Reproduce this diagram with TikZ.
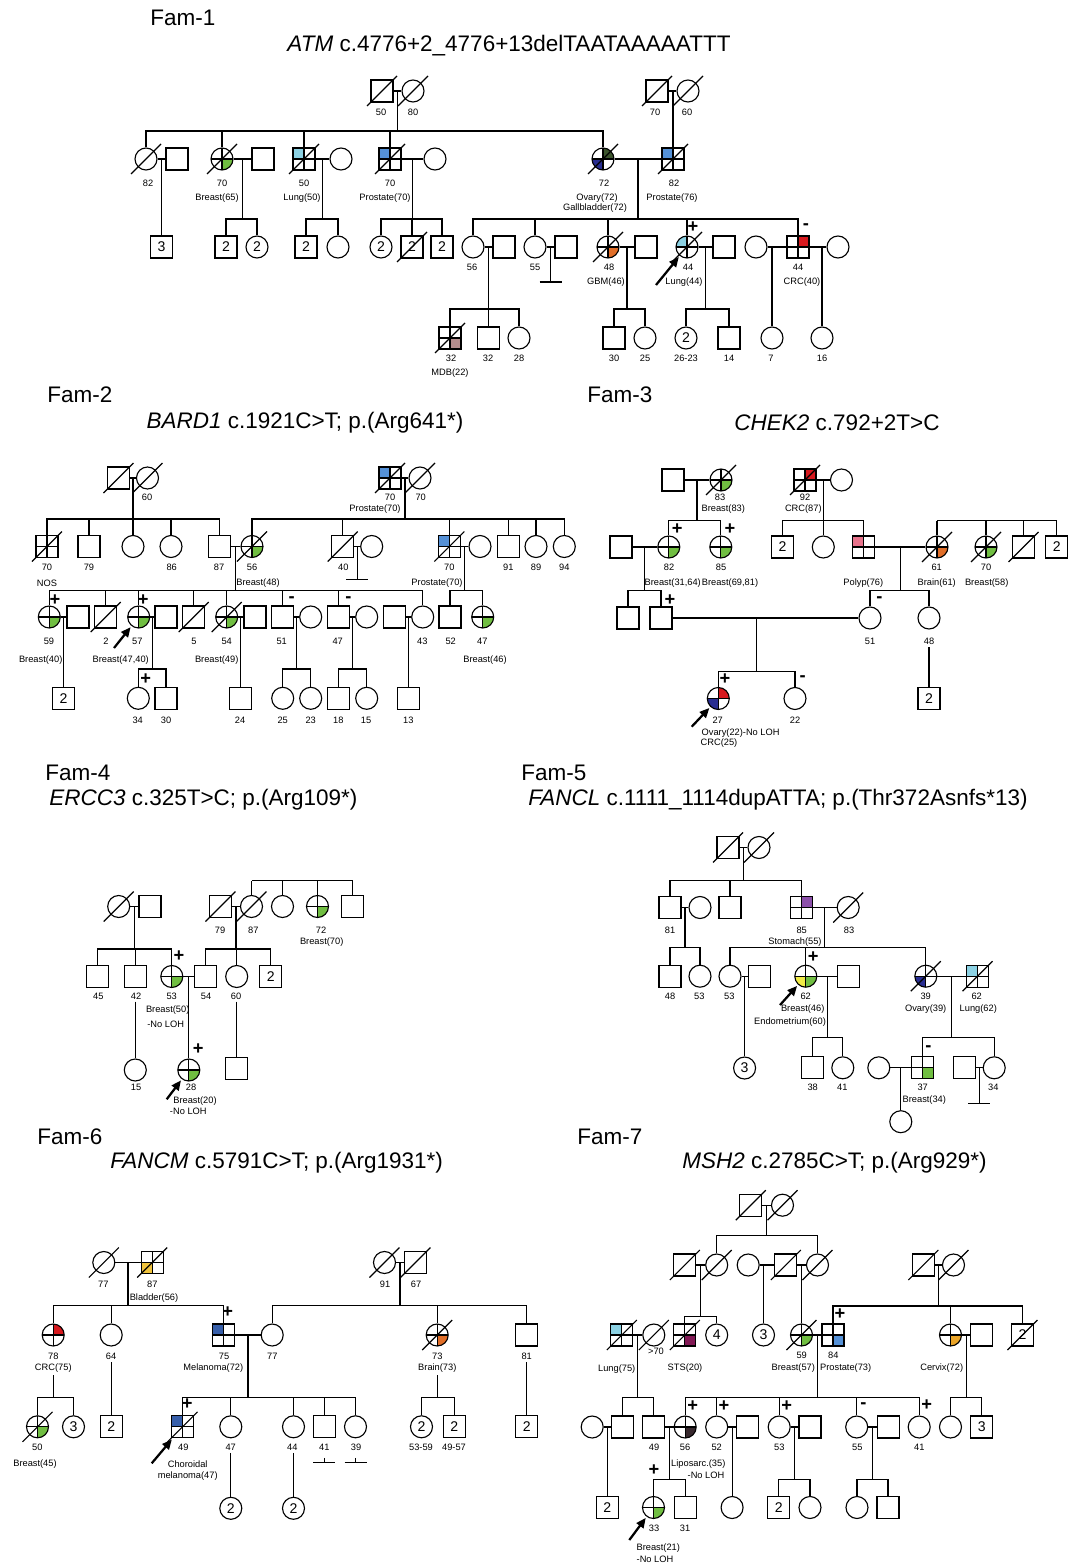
\documentclass[tikz,border=0pt]{standalone}
\usepackage{fontspec}
\setmainfont{Liberation Sans}
\usetikzlibrary{calc,arrows.meta}

\definecolor{brgreen}{RGB}{112,190,65}
\definecolor{ltblue}{RGB}{140,210,228}
\definecolor{prblue}{RGB}{85,145,215}
\definecolor{dkgreen}{RGB}{60,85,45}
\definecolor{dkblue}{RGB}{40,45,145}
\definecolor{orng}{RGB}{225,110,40}
\definecolor{crcred}{RGB}{215,25,30}
\definecolor{mdbrose}{RGB}{180,140,140}
\definecolor{polyp}{RGB}{232,115,140}
\definecolor{stomach}{RGB}{140,80,170}
\definecolor{endoyel}{RGB}{240,235,70}
\definecolor{bladder}{RGB}{240,195,60}
\definecolor{melblue}{RGB}{55,95,170}
\definecolor{stsred}{RGB}{130,25,85}
\definecolor{lipo}{RGB}{55,40,45}
\definecolor{cervix}{RGB}{235,165,40}

\tikzset{
  ln/.style={line width=0.8pt},
  sym/.style={draw, line width=0.8pt, minimum size=5.5mm, inner sep=0pt, font=\fontsize{10}{10}\selectfont},
  male/.style={sym, rectangle},
  fem/.style={sym, circle},
  qd/.style n args={4}{path picture={
    \fill[#1] (path picture bounding box.center) rectangle (path picture bounding box.north west);
    \fill[#2] (path picture bounding box.center) rectangle (path picture bounding box.north east);
    \fill[#3] (path picture bounding box.center) rectangle (path picture bounding box.south west);
    \fill[#4] (path picture bounding box.center) rectangle (path picture bounding box.south east);
    \draw[line width=0.8pt] (path picture bounding box.north) -- (path picture bounding box.south)
      (path picture bounding box.west) -- (path picture bounding box.east);}},
  qnw/.style={qd={#1}{white}{white}{white}},
  qne/.style={qd={white}{#1}{white}{white}},
  qsw/.style={qd={white}{white}{#1}{white}},
  qse/.style={qd={white}{white}{white}{#1}},
  crs/.style={qd={white}{white}{white}{white}},
  lbl/.style={font=\fontsize{6.6}{7}\selectfont, inner sep=1.5pt},
  mk/.style={font=\fontsize{13}{13}\selectfont\bfseries, inner sep=0pt},
  fam/.style={font=\fontsize{16}{19}\selectfont, anchor=west, inner sep=0pt},
  gene/.style={font=\fontsize{16}{19}\selectfont, inner sep=0pt},
  pro/.style={-{Triangle[length=7pt,width=6pt]}, line width=1.6pt, shorten >=1pt},
}
\newcommand{\deadline}[1]{\draw[ln] ([shift={(-15,15)}]#1.center) -- ([shift={(15,-15)}]#1.center);}
\newcommand{\couple}[3]{\draw[ln] (#1) -- (#2); \coordinate (#3) at ($(#1)!.5!(#2)$);}
\newcommand{\sibs}[3]{\draw[ln] (#1) -- (#1 |- 0,#2);
  \foreach \kid in {#3} {\draw[ln] (\kid.north) |- (#1 |- 0,#2);}}

\begin{document}
\begin{tikzpicture}[x=0.25mm, y=-0.25mm]
\fill[white] (0,0) rectangle (1079,1564);
\useasboundingbox (0,0) rectangle (1079,1564);

% ---------------- Fam-1
\node[fam] (h1) at (150,18) {Fam-1};
\node[gene] (g1) at (509,46) {\textit{ATM} c.4776+2\_4776+13delTAATAAAAATTT};
\node[male] (A1) at (382,91) {};
\node[fem] (A2) at (413,91) {};
\node[male] (A3) at (657,91) {};
\node[fem] (A4) at (688,91) {};
\node[fem] (A5) at (146,159) {};
\node[male] (A6) at (177,159) {};
\node[fem, qse=brgreen] (A7) at (222,159) {};
\node[male] (A8) at (263,159) {};
\node[male, qnw=ltblue] (A9) at (304,159) {};
\node[fem] (A10) at (341,159) {};
\node[male, qnw=prblue] (A11) at (390,159) {};
\node[fem] (A12) at (435,159) {};
\node[fem, qd={white}{dkgreen}{dkblue}{white}] (A13) at (603,159) {};
\node[male, qnw=prblue] (A14) at (673,159) {};
\node[male] (A15) at (161.5,247) {3};
\node[male] (A16) at (226,247) {2};
\node[fem] (A17) at (257,247) {2};
\node[male] (A18) at (306,247) {2};
\node[fem] (A19) at (338,247) {};
\node[fem] (A20) at (381,247) {2};
\node[male] (A21) at (412,247) {2};
\node[male] (A22) at (442,247) {2};
\node[fem] (A23) at (473,247) {};
\node[male] (A24) at (504,247) {};
\node[fem] (A25) at (535,247) {};
\node[male] (A26) at (566,247) {};
\node[fem, qse=orng] (A27) at (608,247) {};
\node[male] (A28) at (646,247) {};
\node[fem, qnw=ltblue] (A29) at (687,247) {};
\node[male] (A30) at (724,247) {};
\node[fem] (A31) at (756,247) {};
\node[male, qne=crcred] (A32) at (798,247) {};
\node[fem] (A33) at (838,247) {};
\node[male, qse=mdbrose] (A34) at (450,338) {};
\node[male] (A35) at (488.5,338) {};
\node[fem] (A36) at (519,338) {};
\node[male] (A37) at (614,338) {};
\node[fem] (A38) at (645,338) {};
\node[fem] (A39) at (686,338) {2};
\node[male] (A40) at (729,338) {};
\node[fem] (A41) at (772,338) {};
\node[fem] (A42) at (822,338) {};
\foreach \p in {A1,A2,A3,A4,A5,A7,A9,A11,A13,A14,A21,A27,A29,A34} {\deadline{\p}}
\couple{A1}{A2}{A1m}
\couple{A3}{A4}{A3m}
\couple{A5}{A6}{A5m}
\couple{A7}{A8}{A7m}
\couple{A9}{A10}{A9m}
\couple{A11}{A12}{A11m}
\couple{A13}{A14}{A13m}
\couple{A23}{A24}{A23m}
\couple{A25}{A26}{A25m}
\couple{A27}{A28}{A27m}
\couple{A29}{A30}{A29m}
\couple{A31}{A32}{A31m}
\couple{A32}{A33}{A32m}
\sibs{A1m}{131}{A5,A7,A9,A11,A13}
\draw[ln] (A14.north |- A3m) -- (A14.north);
\draw[ln] (A15.north |- A5m) -- (A15.north);
\sibs{A7m}{219}{A16,A17}
\sibs{A9m}{219}{A18,A19}
\sibs{A11m}{219}{A20,A21,A22}
\sibs{A13m}{219}{A23,A25,A27,A29,A32}
\sibs{A23m}{309}{A34,A35,A36}
\draw[ln] (A25m) -- ++(0,35) ++(-11,0) -- ++(22,0);
\sibs{A27m}{309}{A37,A38}
\sibs{A29m}{309}{A39,A40}
\draw[ln] (A41.north |- A31m) -- (A41.north);
\draw[ln] (A42.north |- A32m) -- (A42.north);
\foreach \n/\x/\t in {A1/381/50, A2/413/80, A3/655/70, A4/687/60}
  \node[lbl] (lab\n) at (\x,112) {\t};
\foreach \n/\x/\t in {A5/148/82, A7/222/70, A9/304/50, A11/390/70, A13/604/72, A14/674/82}
  \node[lbl] (lab\n) at (\x,183) {\t};
\foreach \n/\x/\t in {A7/217/Breast(65), A9/302/Lung(50), A11/385/Prostate(70), A13/597/Ovary(72), A14/672/Prostate(76)}
  \node[lbl] (dis\n) at (\x,198) {\t};
\node[lbl] (disA13b) at (595,208) {Gallbladder(72)};
\foreach \n/\x/\t in {A23/472/56, A25/535/55, A27/609/48, A29/688/44, A32/798/44}
  \node[lbl] (lab\n) at (\x,267) {\t};
\foreach \n/\x/\t in {A27/606/GBM(46), A29/684/Lung(44), A32/802/CRC(40)}
  \node[lbl] (dis\n) at (\x,282) {\t};
\node[mk] (mkA29) at (693,227) {+};
\node[mk] (mkA32) at (806,227) {-};
\foreach \n/\x/\t in {A34/451/32, A35/488/32, A36/519/28, A37/614/30, A38/645/25, A39/686/26-23, A40/729/14, A41/771/7, A42/822/16}
  \node[lbl] (lab\n) at (\x,358) {\t};
\node[lbl] (disA34) at (450,373) {MDB(22)};
\coordinate (arrA) at (656,285);
\draw[pro] (arrA) -- (A29);

% ---------------- Fam-2
\node[fam] (h2) at (47,395) {Fam-2};
\node[gene] (g2) at (305,423) {\textit{BARD1} c.1921C>T; p.(Arg641*)};
\node[male] (B1) at (118.5,478) {};
\node[fem] (B2) at (147.5,478) {};
\node[male, qnw=prblue] (B3) at (390,478) {};
\node[fem] (B4) at (420,478) {};
\node[male, crs] (B5) at (47,546.5) {};
\node[male] (B6) at (89,546.5) {};
\node[fem] (B7) at (133,546.5) {};
\node[fem] (B8) at (171,546.5) {};
\node[male] (B9) at (219.5,546.5) {};
\node[fem, qse=brgreen] (B10) at (252,546.5) {};
\node[male] (B11) at (342.7,546.5) {};
\node[fem] (B12) at (371.7,546.5) {};
\node[male, qnw=prblue] (B13) at (449.3,546.5) {};
\node[fem] (B14) at (480,546.5) {};
\node[male] (B15) at (508.3,546.5) {};
\node[fem] (B16) at (536,546.5) {};
\node[fem] (B17) at (564.3,546.5) {};
\node[fem, qse=brgreen] (B18) at (49.3,617) {};
\node[male] (B19) at (78,617) {};
\node[male] (B20) at (105.7,617) {};
\node[fem, qse=brgreen] (B21) at (138.7,617) {};
\node[male] (B22) at (166,617) {};
\node[male] (B23) at (193.7,617) {};
\node[fem, qse=brgreen] (B24) at (226.7,617) {};
\node[male] (B25) at (255,617) {};
\node[male] (B26) at (282.7,617) {};
\node[fem] (B27) at (310.7,617) {};
\node[male] (B28) at (338.3,617) {};
\node[fem] (B29) at (366.7,617) {};
\node[male] (B30) at (394.3,617) {};
\node[fem] (B31) at (422.7,617) {};
\node[male] (B32) at (450,617) {};
\node[fem, qse=brgreen] (B33) at (482.7,617) {};
\node[male] (B34) at (63.65,698.3) {2};
\node[fem] (B35) at (138.3,698.3) {};
\node[male] (B36) at (166,698.3) {};
\node[male] (B37) at (240.85,698.3) {};
\node[fem] (B38) at (282.7,698.3) {};
\node[fem] (B39) at (310.7,698.3) {};
\node[male] (B40) at (338.3,698.3) {};
\node[fem] (B41) at (366.7,698.3) {};
\node[male] (B42) at (408.5,698.3) {};
\foreach \p in {B1,B2,B3,B4,B5,B10,B11,B13,B20,B23,B24} {\deadline{\p}}
\couple{B1}{B2}{B1m}
\couple{B3}{B4}{B3m}
\couple{B9}{B10}{B9m}
\couple{B11}{B12}{B11m}
\couple{B13}{B14}{B13m}
\couple{B18}{B19}{B18m}
\couple{B21}{B22}{B21m}
\couple{B24}{B25}{B24m}
\couple{B26}{B27}{B26m}
\couple{B28}{B29}{B28m}
\couple{B30}{B31}{B30m}
\sibs{B1m}{519}{B5,B6,B7,B8,B9}
\sibs{B3m}{519}{B10,B11,B13,B15,B16,B17}
\draw[ln] (B11m) -- ++(0,33) ++(-11,0) -- ++(22,0);
\sibs{B9m}{590.7}{B18,B20,B21,B23,B24,B26,B28,B31}
\sibs{B13m}{590.7}{B32,B33}
\draw[ln] (B34.north |- B18m) -- (B34.north);
\draw[ln] (B37.north |- B24m) -- (B37.north);
\draw[ln] (B42.north |- B30m) -- (B42.north);
\sibs{B21m}{669}{B35,B36}
\sibs{B26m}{669}{B38,B39}
\sibs{B28m}{669}{B40,B41}
\foreach \n/\x/\t in {B2/147/60, B3/390/70, B4/420.7/70}
  \node[lbl] (lab\n) at (\x,497) {\t};
\node[lbl] (disB3) at (375,509) {Prostate(70)};
\foreach \n/\x/\t in {B5/47/70, B6/89/79, B8/171.7/86, B9/219/87, B10/252/56, B11/343.3/40, B13/449.3/70, B15/508.3/91, B16/536/89, B17/564.3/94}
  \node[lbl] (lab\n) at (\x,567) {\t};
\foreach \n/\x/\t in {B5/47/NOS, B10/258/Breast(48), B13/437/Prostate(70)}
  \node[lbl] (dis\n) at (\x,583) {\t};
\foreach \n/\x/\t in {B18/49/59, B20/106/2, B21/137.3/57, B23/194/5, B24/226.7/54, B26/281.7/51, B28/337.7/47, B31/422.3/43, B32/450.7/52, B33/482.3/47}
  \node[lbl] (lab\n) at (\x,641.7) {\t};
\foreach \n/\x/\t in {B18/40.7/Breast(40), B24/216.7/Breast(49), B33/485/Breast(46)}
  \node[lbl] (dis\n) at (\x,660) {\t};
\node[lbl] (disB21) at (120.7,660) {Breast(47,40)};
\node[mk] (mkB18) at (55,600) {+};
\node[mk] (mkB21) at (143.3,600) {+};
\node[mk] (mkB26) at (291.7,599.3) {-};
\node[mk] (mkB28) at (348.3,599.3) {-};
\node[mk] (mkB35) at (145.7,679.3) {+};
\foreach \n/\x/\t in {B35/137.7/34, B36/166/30, B37/240/24, B38/282.7/25, B39/310.7/23, B40/338.3/18, B41/366/15, B42/408.3/13}
  \node[lbl] (lab\n) at (\x,720.7) {\t};
\coordinate (arrB) at (114,648);
\draw[pro] (arrB) -- (B21);

% ---------------- Fam-3
\node[fam] (h3) at (587,395) {Fam-3};
\node[gene] (g3) at (837,423) {\textit{CHEK2} c.792+2T>C};
\node[male] (C1) at (673,480) {};
\node[fem, qse=brgreen] (C2) at (721,480) {};
\node[male, qne=crcred] (C3) at (805,480) {};
\node[fem] (C4) at (841.5,480) {};
\node[male] (C5) at (621,547) {};
\node[fem, qse=brgreen] (C6) at (668.8,547) {};
\node[fem, qse=brgreen] (C7) at (720.8,547) {};
\node[male] (C8) at (782.5,547) {2};
\node[fem] (C9) at (823.3,547) {};
\node[male, qnw=polyp] (C10) at (863.3,547) {};
\node[fem, qse=orng] (C11) at (937,547) {};
\node[fem, qse=brgreen] (C12) at (986,547) {};
\node[male] (C13) at (1023.5,547) {};
\node[male] (C14) at (1056.7,547) {2};
\node[male] (C15) at (628,618) {};
\node[male] (C16) at (661,618) {};
\node[fem] (C17) at (870,618) {};
\node[fem] (C18) at (929,618) {};
\node[fem, qd={white}{crcred}{dkblue}{white}] (C19) at (718.3,698.5) {};
\node[fem] (C20) at (795,698.5) {};
\node[male] (C21) at (929,698.8) {2};
\foreach \p in {C2,C3,C11,C12,C13} {\deadline{\p}}
\couple{C1}{C2}{C1m}
\couple{C3}{C4}{C3m}
\couple{C5}{C6}{C5m}
\couple{C10}{C11}{C10m}
\draw[ln] (C16) -- (C17);
\coordinate (C16m) at (756.7,618);
\sibs{C1m}{520.7}{C6,C7}
\sibs{C3m}{520.7}{C8,C9,C10}
\sibs{C11.north}{520.7}{C11,C12,C13,C14}
\sibs{C5m}{590.7}{C15,C16}
\sibs{C10m}{590.7}{C17,C18}
\sibs{C16m}{671.7}{C19,C20}
\foreach \n/\x/\t in {C2/720/83, C3/805/92}
  \node[lbl] (lab\n) at (\x,497.3) {\t};
\foreach \n/\x/\t in {C2/723.3/Breast(83), C3/803.3/CRC(87)}
  \node[lbl] (dis\n) at (\x,509) {\t};
\foreach \n/\x/\t in {C6/669/82, C7/721/85, C11/936.7/61, C12/986/70}
  \node[lbl] (lab\n) at (\x,567.3) {\t};
\node[lbl] (disC6) at (672.7,582.7) {Breast(31,64)};
\node[lbl] (disC7) at (730,582.7) {Breast(69,81)};
\foreach \n/\x/\t in {C10/863.3/Polyp(76), C11/936.7/Brain(61), C12/986.7/Breast(58)}
  \node[lbl] (dis\n) at (\x,582.7) {\t};
\node[mk] (mkC6) at (677.3,529.3) {+};
\node[mk] (mkC7) at (730,529.3) {+};
\node[mk] (mkC16) at (670,600) {+};
\node[mk] (mkC17) at (879.3,600) {-};
\node[mk] (mkC19) at (725,679.3) {+};
\node[mk] (mkC20) at (802.7,678.3) {-};
\foreach \n/\x/\t in {C17/870/51, C18/929/48}
  \node[lbl] (lab\n) at (\x,641.7) {\t};
\draw[ln] (C21.north |- labC18.south) -- (C21.north);
\foreach \n/\x/\t in {C19/717.7/27, C20/795/22}
  \node[lbl] (lab\n) at (\x,720.7) {\t};
\node[lbl, anchor=west] (disC19) at (699.3,733.3) {Ovary(22)-No LOH};
\node[lbl] (disC19b) at (719,743.3) {CRC(25)};
\coordinate (arrC) at (691.7,726.7);
\draw[pro] (arrC) -- (C19);

% ---------------- Fam-4
\node[fam] (h4) at (45,773) {Fam-4};
\node[gene, anchor=west] (g4) at (49,800) {\textit{ERCC3} c.325T>C; p.(Arg109*)};
\node[fem] (D1) at (118.7,906.5) {};
\node[male] (D2) at (150,906.5) {};
\node[male] (D3) at (220.5,906.5) {};
\node[fem] (D4) at (251.5,906.5) {};
\node[fem] (D5) at (282.5,906.5) {};
\node[fem, qse=brgreen] (D6) at (317.5,906.5) {};
\node[male] (D7) at (352.8,906.5) {};
\node[male] (D8) at (97.8,976.5) {};
\node[male] (D9) at (135.3,976.5) {};
\node[fem, qse=brgreen] (D10) at (171.8,976.5) {};
\node[male] (D11) at (205.8,976.5) {};
\node[fem] (D12) at (236.7,976.5) {};
\node[male] (D13) at (270.8,976.5) {2};
\node[fem] (D15) at (135.3,1070) {};
\node[fem, qse=brgreen] (D14) at (188.8,1070) {};
\node[male] (D16) at (236.7,1068.8) {};
\foreach \p in {D1,D3,D4} {\deadline{\p}}
\couple{D1}{D2}{D1m}
\couple{D3}{D4}{D3m}
\couple{D10}{D11}{D10m}
\sibs{D4.north}{880.7}{D4,D5,D6,D7}
\sibs{D1m}{949}{D8,D9,D10}
\sibs{D3m}{949}{D11,D12,D13}
\draw[ln] (D14.north |- D10m) -- (D14.north);
\foreach \n/\x/\t in {D3/220/79, D4/253.3/87, D6/321/72}
  \node[lbl] (lab\n) at (\x,930) {\t};
\node[lbl] (disD6) at (321.7,942.3) {Breast(70)};
\foreach \n/\x/\t in {D8/98.3/45, D9/136/42, D10/171.7/53, D11/206/54, D12/236/60}
  \node[lbl] (lab\n) at (\x,996) {\t};
\node[lbl] (disD10) at (167.7,1010) {Breast(50)};
\node[lbl] (disD10b) at (165.7,1024) {-No LOH};
\draw[ln] (D15.north |- labD9.south) -- (D15.north);
\draw[ln] (D16.north |- labD12.south) -- (D16.north);
\node[mk] (mkD10) at (179,955.7) {+};
\node[mk] (mkD14) at (198.3,1049.3) {+};
\foreach \n/\x/\t in {D15/136/15, D14/191/28}
  \node[lbl] (lab\n) at (\x,1087.7) {\t};
\node[lbl] (disD14) at (195,1100.7) {Breast(20)};
\node[lbl] (disD14b) at (188.3,1111.7) {-No LOH};
\coordinate (arrD) at (166.7,1099.3);
\draw[pro] (arrD) -- (D14);

% ---------------- Fam-5
\node[fam] (h5) at (521,773) {Fam-5};
\node[gene, anchor=west] (g5) at (528,800) {\textit{FANCL} c.1111\_1114dupATTA; p.(Thr372Asnfs*13)};
\node[male] (E1) at (728,847.5) {};
\node[fem] (E2) at (759,847.5) {};
\node[male] (E3) at (670,907.5) {};
\node[fem] (E4) at (700,907.5) {};
\node[male] (E5) at (730,907.5) {};
\node[male, qne=stomach] (E6) at (801.2,907.5) {};
\node[fem] (E7) at (848.2,907.5) {};
\node[male] (E8) at (670,976.2) {};
\node[fem] (E9) at (700,976.2) {};
\node[fem] (E10) at (730,976.2) {};
\node[male] (E11) at (759.2,976.2) {};
\node[fem, qd={white}{white}{endoyel}{brgreen}] (E12) at (805.8,976.2) {};
\node[male] (E13) at (848.8,976.2) {};
\node[fem, qsw=dkblue] (E14) at (925.8,976.2) {};
\node[male, qnw=ltblue] (E15) at (977.5,976.2) {};
\node[fem] (E16) at (744.6,1068) {3};
\node[male] (E17) at (812.5,1067.8) {};
\node[fem] (E18) at (842.8,1067.8) {};
\node[fem] (E19) at (878.8,1067.8) {};
\node[male, qse=brgreen] (E20) at (922.8,1067.8) {};
\node[male] (E21) at (964.2,1067.8) {};
\node[fem] (E22) at (994.2,1067.8) {};
\node[fem] (E23) at (900.8,1121.7) {};
\foreach \p in {E1,E2,E7,E14,E15} {\deadline{\p}}
\couple{E1}{E2}{E1m}
\couple{E3}{E4}{E3m}
\couple{E6}{E7}{E6m}
\couple{E10}{E11}{E10m}
\couple{E12}{E13}{E12m}
\couple{E14}{E15}{E14m}
\couple{E19}{E20}{E19m}
\couple{E21}{E22}{E21m}
\sibs{E1m}{880.7}{E3,E5,E6}
\sibs{E3m}{947.7}{E8,E9}
\sibs{E6m}{947.7}{E10,E12,E14}
\draw[ln] (E16.north |- E10m) -- (E16.north);
\sibs{E12m}{1037.3}{E17,E18}
\sibs{E14m}{1037.3}{E20,E22}
\draw[ln] (E23.north |- E19m) -- (E23.north);
\draw[ln] (E21m) -- ++(0,35.5) ++(-11,0) -- ++(22,0);
\foreach \n/\x/\t in {E3/670/81, E6/801.7/85, E7/849/83}
  \node[lbl] (lab\n) at (\x,930) {\t};
\node[lbl] (disE6) at (795,942.3) {Stomach(55)};
\foreach \n/\x/\t in {E8/670/48, E9/699.3/53, E10/729.3/53, E12/805.7/62, E14/925.7/39, E15/976.7/62}
  \node[lbl] (lab\n) at (\x,996.7) {\t};
\foreach \n/\x/\t in {E12/802.7/Breast(46), E14/925.7/Ovary(39), E15/978.3/Lung(62)}
  \node[lbl] (dis\n) at (\x,1009) {\t};
\node[lbl] (disE12b) at (790,1021.7) {Endometrium(60)};
\node[mk] (mkE12) at (813.3,956.7) {+};
\node[mk] (mkE20) at (928.3,1048.3) {-};
\foreach \n/\x/\t in {E17/812.7/38, E18/842.3/41, E20/922.7/37, E22/993.3/34}
  \node[lbl] (lab\n) at (\x,1087.3) {\t};
\node[lbl] (disE20) at (924.3,1100) {Breast(34)};
\coordinate (arrE) at (780,1005);
\draw[pro] (arrE) -- (E12);

% ---------------- Fam-6
\node[fam] (h6) at (37,1137) {Fam-6};
\node[gene, anchor=west] (g6) at (110,1163) {\textit{FANCM} c.5791C>T; p.(Arg1931*)};
\node[fem] (F1) at (103.8,1262.5) {};
\node[male, qsw=bladder] (F2) at (152.2,1262.5) {};
\node[fem] (F3) at (384.5,1262.5) {};
\node[male] (F4) at (415.5,1262.5) {};
\node[fem, qne=crcred] (F5) at (53.2,1335) {};
\node[fem] (F6) at (111.2,1335) {};
\node[male, qnw=melblue] (F7) at (223.8,1335) {};
\node[fem] (F8) at (272.2,1335) {};
\node[fem, qse=orng] (F9) at (437.2,1335) {};
\node[male] (F10) at (526.8,1335) {};
\node[fem, qse=brgreen] (F11) at (37.5,1426.8) {};
\node[fem] (F12) at (73.5,1426.8) {3};
\node[male] (F13) at (111.2,1426.8) {2};
\node[male, qnw=melblue] (F14) at (182.5,1426.8) {};
\node[fem] (F15) at (230.8,1426.8) {};
\node[fem] (F16) at (293.5,1426.8) {};
\node[male] (F17) at (324.2,1426.8) {};
\node[fem] (F18) at (355.5,1426.8) {};
\node[fem] (F19) at (421.5,1426.8) {2};
\node[male] (F20) at (454.2,1426.8) {2};
\node[male] (F21) at (526.8,1426.8) {2};
\node[fem] (F22) at (230.8,1508.3) {2};
\node[fem] (F23) at (293.5,1508.3) {2};
\foreach \p in {F1,F2,F3,F4,F9,F11,F14} {\deadline{\p}}
\couple{F1}{F2}{F1m}
\couple{F3}{F4}{F3m}
\couple{F7}{F8}{F7m}
\sibs{F1m}{1305.7}{F5,F6,F7}
\sibs{F3m}{1305.7}{F8,F9,F10}
\sibs{F7m}{1397.3}{F14,F15,F16,F17,F18}
\foreach \n/\x/\t in {F1/103.3/77, F2/152.3/87, F3/385/91, F4/416/67}
  \node[lbl] (lab\n) at (\x,1284.3) {\t};
\node[lbl] (disF2) at (154,1297.7) {Bladder(56)};
\foreach \n/\x/\t in {F5/53.3/78, F6/111/64, F7/224/75, F8/272.3/77, F9/437.3/73, F10/526.7/81}
  \node[lbl] (lab\n) at (\x,1356.7) {\t};
\foreach \n/\x/\t in {F5/53.3/CRC(75), F7/213.3/Melanoma(72), F9/437.3/Brain(73)}
  \node[lbl] (dis\n) at (\x,1368.3) {\t};
\node[mk] (mkF7) at (227.7,1312.3) {+};
\sibs{disF5.south}{1397.3}{F11,F12}
\sibs{disF9.south}{1397.3}{F19,F20}
\draw[ln] (F13.north |- labF6.south) -- (F13.north);
\draw[ln] (F21.north |- labF10.south) -- (F21.north);
\foreach \n/\x/\t in {F11/37.3/50, F14/183.3/49, F15/230.7/47, F16/292.3/44, F17/324.3/41, F18/356/39, F19/421/53-59, F20/454/49-57}
  \node[lbl] (lab\n) at (\x,1447.3) {\t};
\node[lbl] (disF11) at (35,1464.3) {Breast(45)};
\node[lbl] (disF14) at (187.7,1464.3) {Choroidal};
\node[lbl] (disF14b) at (187.7,1475.7) {melanoma(47)};
\node[mk] (mkF14) at (187.3,1404.3) {+};
\foreach \p in {F17,F18} {\draw[ln] (\p.south) ++(0,19.5) -- ++(0,4.5) ++(-11,0) -- ++(22,0);}
\draw[ln] (F22.north |- labF15.south) -- (F22.north);
\draw[ln] (F23.north |- labF16.south) -- (F23.north);
\coordinate (arrF) at (151.7,1463.3);
\draw[pro] (arrF) -- (F14);

% ---------------- Fam-7
\node[fam] (h7) at (577,1137) {Fam-7};
\node[gene, anchor=west] (g7) at (682,1163) {\textit{MSH2} c.2785C>T; p.(Arg929*)};
\node[male] (G1) at (750.8,1205.2) {};
\node[fem] (G2) at (782.5,1205.2) {};
\node[male] (G3) at (684.8,1265) {};
\node[fem] (G4) at (716.7,1265) {};
\node[fem] (G5) at (748.2,1265) {};
\node[male] (G6) at (785.8,1265) {};
\node[fem] (G7) at (817.5,1265) {};
\node[male] (G8) at (923.3,1265) {};
\node[fem] (G9) at (953.5,1265) {};
\node[male, qnw=ltblue] (G10) at (621.8,1335) {};
\node[fem] (G11) at (653.8,1335) {};
\node[male, qse=stsred] (G12) at (684.8,1335) {};
\node[fem] (G13) at (716.7,1335) {4};
\node[fem] (G14) at (763.5,1335) {3};
\node[fem, qse=brgreen] (G15) at (801.5,1335) {};
\node[male, qse=prblue] (G16) at (833,1335) {};
\node[fem, qse=cervix] (G17) at (950.5,1335) {};
\node[male] (G18) at (981.7,1335) {};
\node[male] (G19) at (1022.5,1335) {2};
\node[fem] (G20) at (592.2,1427) {};
\node[male] (G21) at (622.5,1427) {};
\node[male] (G22) at (653.8,1427) {};
\node[fem, qse=lipo] (G23) at (685.2,1427) {};
\node[fem] (G24) at (716.7,1427) {};
\node[male] (G25) at (747.5,1427) {};
\node[fem] (G26) at (779.2,1427) {};
\node[male] (G27) at (810,1427) {};
\node[fem] (G28) at (856.7,1427) {};
\node[male] (G29) at (888.2,1427) {};
\node[fem] (G30) at (919.2,1427) {};
\node[fem] (G31) at (950.5,1427) {};
\node[male] (G32) at (981.7,1427) {3};
\node[male] (G33) at (607.35,1507.5) {2};
\node[fem, qse=brgreen] (G34) at (653.5,1507.5) {};
\node[male] (G35) at (685.2,1507.5) {};
\node[fem] (G36) at (732.1,1507.5) {};
\node[male] (G37) at (778.8,1507.5) {2};
\node[fem] (G38) at (810,1507.5) {};
\node[fem] (G39) at (857,1507.5) {};
\node[male] (G40) at (888,1507.5) {};
\foreach \p in {G1,G2,G3,G4,G6,G7,G8,G9,G10,G11,G12,G15,G19} {\deadline{\p}}
\couple{G1}{G2}{G1m}
\couple{G3}{G4}{G3m}
\couple{G5}{G6}{G5m}
\couple{G6}{G7}{G6m}
\couple{G8}{G9}{G8m}
\couple{G10}{G11}{G10m}
\couple{G15}{G16}{G15m}
\couple{G17}{G18}{G17m}
\couple{G20}{G21}{G20m}
\couple{G22}{G23}{G22m}
\couple{G24}{G25}{G24m}
\couple{G26}{G27}{G26m}
\couple{G28}{G29}{G28m}
\sibs{G1m}{1235.7}{G4,G7}
\sibs{G3m}{1316.7}{G12,G13}
\draw[ln] (G14.north |- G5m) -- (G14.north);
\draw[ln] (G15.north |- G6m) -- (G15.north);
\sibs{G8m}{1306}{G16,G17,G19}
\sibs{G10m}{1397.3}{G21,G22}
\sibs{G15m}{1397.3}{G23,G24,G26,G28,G30}
\sibs{G17m}{1397.3}{G31,G32}
\draw[ln] (G33.north |- G20m) -- (G33.north);
\sibs{G22m}{1479.3}{G34,G35}
\draw[ln] (G36.north |- G24m) -- (G36.north);
\sibs{G26m}{1479.3}{G37,G38}
\sibs{G28m}{1479.3}{G39,G40}
\node[lbl] (labG11) at (656,1351) {>70};
\node[lbl] (disG10) at (616.7,1369) {Lung(75)};
\node[lbl] (disG12) at (685,1368.3) {STS(20)};
\foreach \n/\x/\t in {G15/801.7/59, G16/833.3/84}
  \node[lbl] (lab\n) at (\x,1355) {\t};
\foreach \n/\x/\t in {G15/793.3/Breast(57), G16/845.7/Prostate(73), G17/941.7/Cervix(72)}
  \node[lbl] (dis\n) at (\x,1368.3) {\t};
\node[mk] (mkG16) at (840,1314) {+};
\foreach \n/\x/\t in {G22/654/49, G23/685/56, G24/716.7/52, G26/779.3/53, G28/857.3/55, G30/919.3/41}
  \node[lbl] (lab\n) at (\x,1447.3) {\t};
\node[lbl] (disG23) at (698.3,1464.3) {Liposarc.(35)};
\node[lbl] (disG23b) at (706,1475.7) {-No LOH};
\node[mk] (mkG23) at (692.7,1406) {+};
\node[mk] (mkG24) at (724,1406) {+};
\node[mk] (mkG26) at (786.7,1406) {+};
\node[mk] (mkG28) at (863.3,1405.7) {-};
\node[mk] (mkG30) at (926.7,1405) {+};
\node[mk] (mkG34) at (654,1470) {+};
\foreach \n/\x/\t in {G34/654/33, G35/685/31}
  \node[lbl] (lab\n) at (\x,1528.3) {\t};
\node[lbl] (disG34) at (658.3,1547.7) {Breast(21)};
\node[lbl] (disG34b) at (655,1559.3) {-No LOH};
\coordinate (arrG) at (629.3,1540);
\draw[pro] (arrG) -- (G34);
\end{tikzpicture}
\end{document}
